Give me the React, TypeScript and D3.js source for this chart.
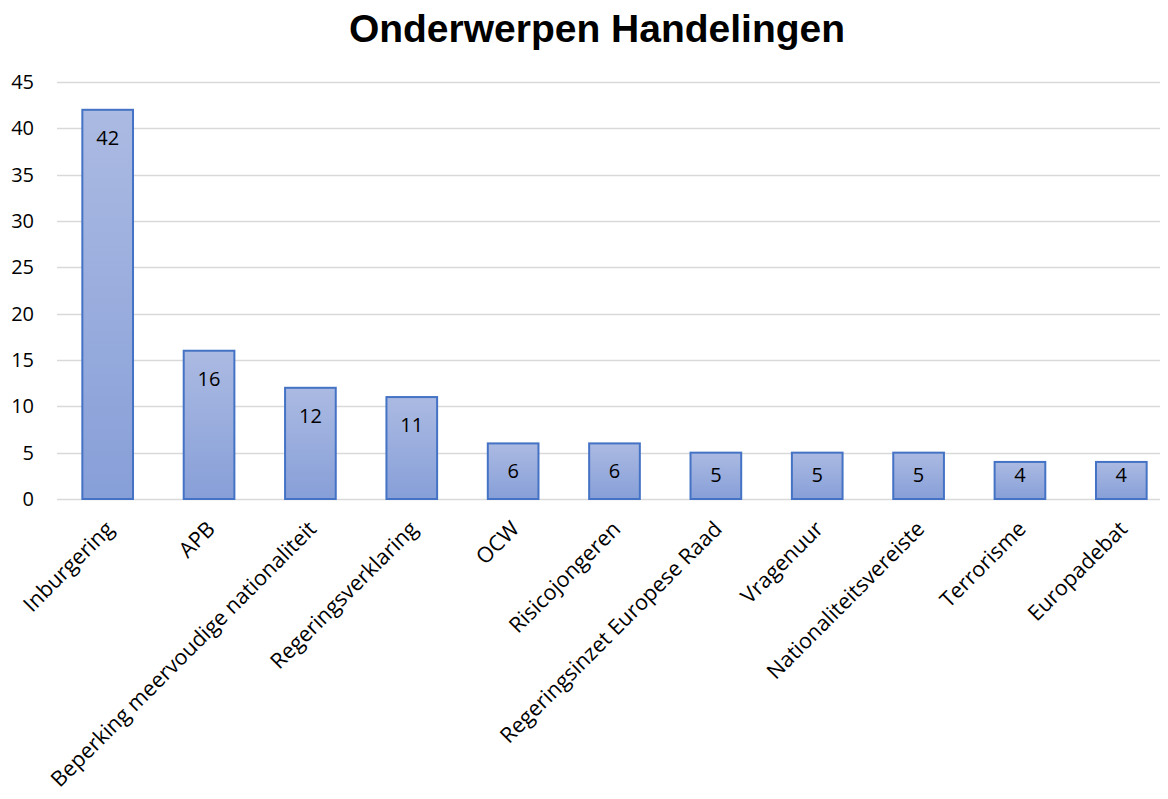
import { useEffect, useRef } from 'react';
import * as d3 from 'd3';

const CATEGORIES = [
  'Inburgering',
  'APB',
  'Beperking meervoudige nationaliteit',
  'Regeringsverklaring',
  'OCW',
  'Risicojongeren',
  'Regeringsinzet Europese Raad',
  'Vragenuur',
  'Nationaliteitsvereiste',
  'Terrorisme',
  'Europadebat',
];
const VALUES = [42, 16, 12, 11, 6, 6, 5, 5, 5, 4, 4];
const Y_TICKS = [0, 5, 10, 15, 20, 25, 30, 35, 40, 45];
const TITLE = 'Onderwerpen Handelingen';

const WIDTH = 1168;
const HEIGHT = 799;
const PLOT = { left: 57, right: 1172, top: 82, bottom: 499 };
const GRID_RIGHT = 1163;

const LABEL_FONT = '"Open Sans", "Noto Sans", sans-serif';

export default function App() {
  const svgRef = useRef<SVGSVGElement>(null);

  useEffect(() => {
    const svg = d3.select(svgRef.current);
    svg.selectAll('*').remove();

    const x = d3.scaleBand<string>().domain(CATEGORIES).range([PLOT.left, PLOT.right]).paddingInner(0.5).paddingOuter(0.25);
    const y = d3.scaleLinear().domain([0, 45]).range([PLOT.bottom, PLOT.top]);

    // gradient for bars
    const grad = svg
      .append('defs')
      .append('linearGradient')
      .attr('id', 'bar-grad')
      .attr('x1', '0%')
      .attr('x2', '0%')
      .attr('y1', '0%')
      .attr('y2', '100%');
    grad.append('stop').attr('offset', '0%').attr('stop-color', '#abbae2');
    grad.append('stop').attr('offset', '100%').attr('stop-color', '#879fd8');

    // title
    svg
      .append('text')
      .attr('x', 597)
      .attr('y', 42)
      .attr('text-anchor', 'middle')
      .style('font-family', '"Liberation Sans", Arial, sans-serif')
      .style('font-weight', 'bold')
      .style('font-size', '39px')
      .style('fill', '#000')
      .text(TITLE);

    // gridlines
    svg
      .append('g')
      .selectAll('line')
      .data(Y_TICKS)
      .join('line')
      .attr('x1', PLOT.left)
      .attr('x2', GRID_RIGHT)
      .attr('y1', (d) => Math.round(y(d)) + 0.5)
      .attr('y2', (d) => Math.round(y(d)) + 0.5)
      .attr('stroke', '#d9d9d9')
      .attr('stroke-width', 1.5);

    // y labels
    svg
      .append('g')
      .selectAll('text')
      .data(Y_TICKS)
      .join('text')
      .attr('x', 34)
      .attr('y', (d) => y(d))
      .attr('dy', '0.35em')
      .attr('text-anchor', 'end')
      .style('font-family', LABEL_FONT)
      .style('font-size', '20px')
      .style('fill', '#000')
      .text((d) => d);

    const data = CATEGORIES.map((c, i) => ({ c, v: VALUES[i] }));

    // bars
    svg
      .append('g')
      .selectAll('rect')
      .data(data)
      .join('rect')
      .attr('x', (d) => x(d.c)!)
      .attr('y', (d) => y(d.v))
      .attr('width', x.bandwidth())
      .attr('height', (d) => y(0) - y(d.v))
      .attr('fill', 'url(#bar-grad)')
      .attr('stroke', '#4472c4')
      .attr('stroke-width', 2);

    // value labels, inside end
    svg
      .append('g')
      .selectAll('text')
      .data(data)
      .join('text')
      .attr('x', (d) => x(d.c)! + x.bandwidth() / 2)
      .attr('y', (d) => Math.min(y(d.v) + 28, y(0) - 24))
      .attr('dy', '0.35em')
      .attr('text-anchor', 'middle')
      .style('font-family', LABEL_FONT)
      .style('font-size', '20px')
      .style('fill', '#000')
      .text((d) => d.v);

    // category labels rotated -45
    svg
      .append('g')
      .selectAll('text')
      .data(CATEGORIES)
      .join('text')
      .attr('transform', (d) => `translate(${x(d)! + x.bandwidth() / 2 + 2},${PLOT.bottom + 26}) rotate(-45)`)
      .attr('text-anchor', 'end')
      .attr('dy', '0.35em')
      .style('font-family', LABEL_FONT)
      .style('font-size', '21.5px')
      .style('fill', '#000')
      .text((d) => d);
  }, []);

  return <svg ref={svgRef} width={WIDTH} height={HEIGHT} style={{ display: 'block', margin: '-8px' }} />;
}
